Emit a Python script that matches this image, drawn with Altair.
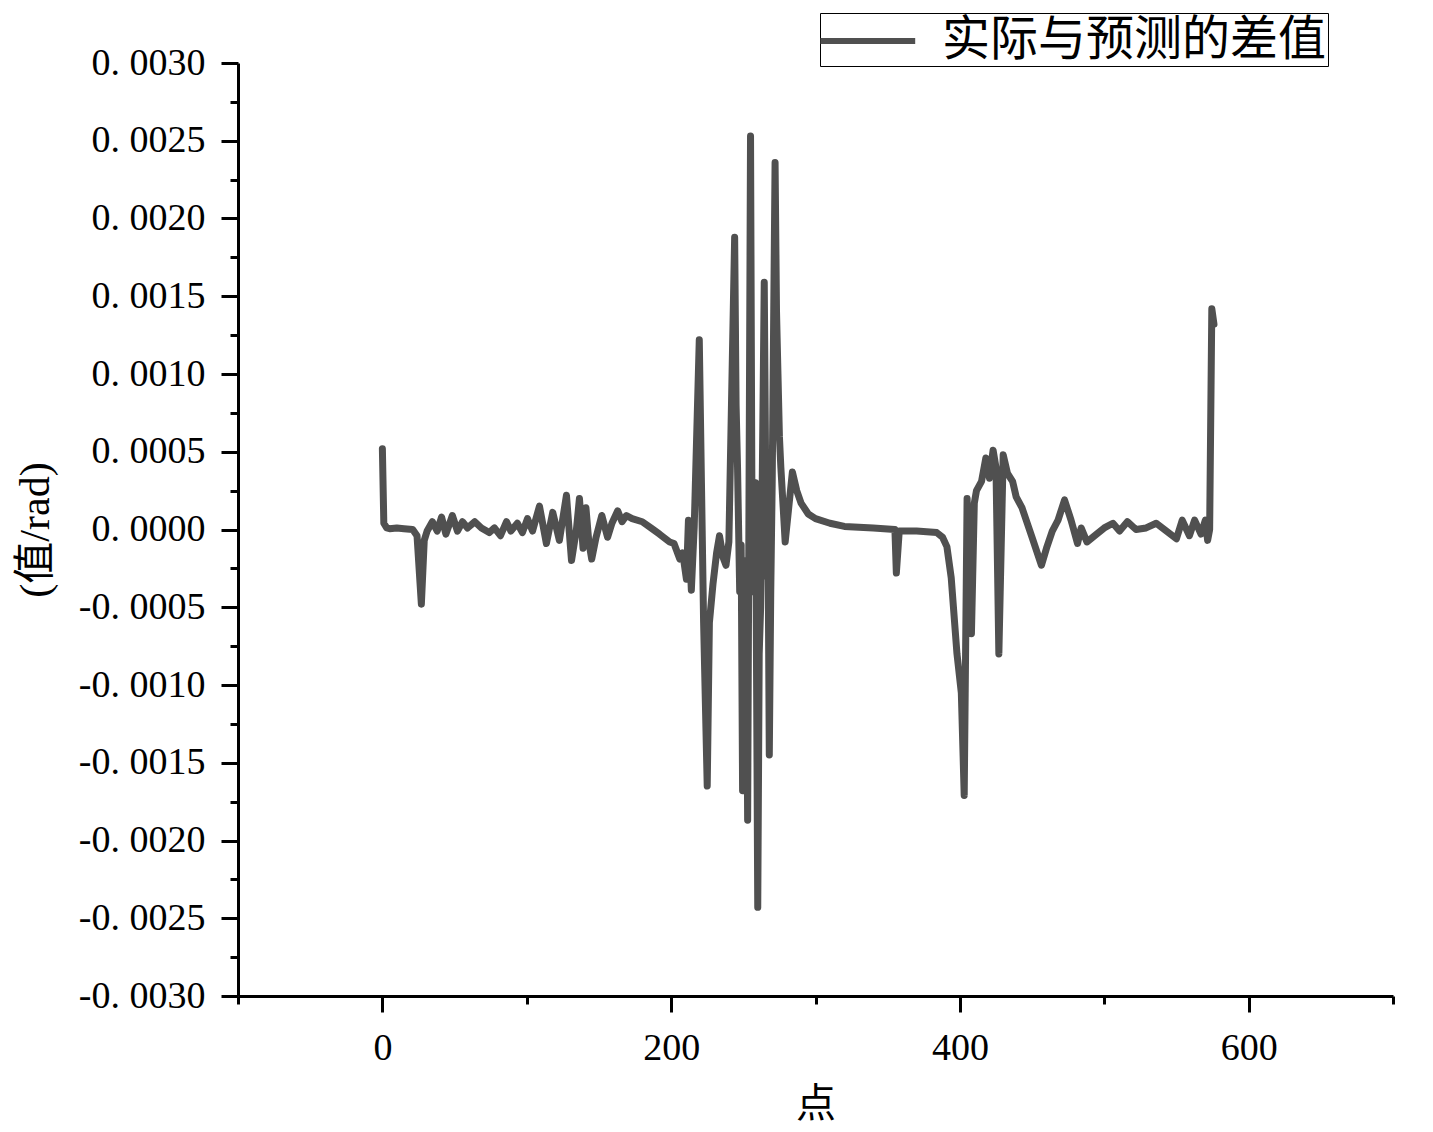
import altair as alt
import pandas as pd

series_name = "实际与预测的差值"
x_title = "点"
y_title = "(值/rad)"

# x positions (点) of the line vertices
x_vals = [0, 1, 3, 5, 10, 15, 21, 24, 27, 29, 31, 34.6, 38, 41, 44, 48.5, 52, 55.5, 59, 64,
          68.6, 74, 77.6, 81.8, 86, 89, 93.5, 97, 100.5, 104, 108.8, 113.6, 118, 122.6, 127.5,
          131, 134.4, 136.5, 139, 141, 143, 145, 148, 152, 156, 159, 163, 166, 169, 173, 180,
          186, 192, 199, 202, 206, 208, 210.6, 212, 214, 216, 219.5, 221, 222.5, 225, 226.5,
          229, 231.5, 233.5, 236, 238, 240, 244, 245, 246, 247.5, 248.5, 249.5, 251, 252,
          253, 255, 256, 257, 258.5, 260, 261, 262, 263, 264.5, 266, 267, 268, 269, 270, 272,
          273, 274, 275, 276, 279, 284, 287, 290, 295, 300, 310, 320, 340, 355, 356, 358,
          370, 384, 388, 391, 394, 398, 401, 403, 405, 407, 408, 410, 411.5, 415, 418, 420.5,
          423, 425, 427, 430, 433, 436.5, 439, 443, 450, 456.5, 460, 464, 468, 472.5, 477,
          481.5, 484, 488, 494.6, 500, 506, 510.6, 516, 522, 529, 536, 543, 550, 554, 559,
          562.6, 567, 570, 571.6, 573, 574.5, 576]

# difference values (rad)
y_vals = [5.2e-4, 0.4e-4, 0.1e-4, 0.05e-4, 0.1e-4, 0.05e-4, 0.0, -0.4e-4, -4.8e-4, -0.7e-4,
          -0.1e-4, 0.5e-4, -0.1e-4, 0.8e-4, -0.3e-4, 0.9e-4, -0.1e-4, 0.5e-4, 0.1e-4, 0.5e-4,
          0.1e-4, -0.2e-4, 0.1e-4, -0.4e-4, 0.5e-4, -0.1e-4, 0.4e-4, -0.2e-4, 0.7e-4, -0.1e-4,
          1.5e-4, -0.9e-4, 1.1e-4, -0.7e-4, 2.2e-4, -2.0e-4, 0.0, 2.0e-4, -1.2e-4, 1.4e-4,
          -0.8e-4, -1.9e-4, -0.5e-4, 0.9e-4, -0.5e-4, 0.4e-4, 1.2e-4, 0.5e-4, 0.9e-4, 0.7e-4,
          0.5e-4, 0.1e-4, -0.3e-4, -0.8e-4, -0.9e-4, -1.9e-4, -1.5e-4, -3.2e-4, 0.6e-4,
          -3.9e-4, 0.2e-4, 12.2e-4, 3.0e-4, -6.0e-4, -16.5e-4, -6.0e-4, -3.5e-4, -1.5e-4,
          -0.4e-4, -1.8e-4, -2.3e-4, -0.8e-4, 18.8e-4, 8.0e-4, 4.0e-4, -4.0e-4, -1.0e-4,
          -16.8e-4, -5.0e-4, -2.0e-4, -18.7e-4, 25.3e-4, 1.0e-4, -4.0e-4, 3.0e-4, -24.3e-4,
          -8.0e-4, -5.0e-4, 2.0e-4, 15.9e-4, -3.0e-4, 1.0e-4, -14.5e-4, -4.0e-4, 3.0e-4,
          23.6e-4, 14.0e-4, 10.0e-4, 6.0e-4, 4.0e-4, -0.8e-4, 3.7e-4, 2.5e-4, 1.7e-4, 1.0e-4,
          0.7e-4, 0.4e-4, 0.2e-4, 0.1e-4, 0.0, -2.8e-4, -0.1e-4, -0.1e-4, -0.2e-4, -0.5e-4,
          -1.1e-4, -3.1e-4, -8.0e-4, -10.5e-4, -17.1e-4, 2.0e-4, -3.0e-4, -6.7e-4, 1.7e-4,
          2.5e-4, 3.1e-4, 4.6e-4, 3.3e-4, 5.1e-4, 4.0e-4, -8.0e-4, 4.8e-4, 3.6e-4, 3.1e-4,
          2.1e-4, 1.4e-4, -0.5e-4, -2.3e-4, -1.2e-4, -0.1e-4, 0.6e-4, 1.9e-4, 0.6e-4, -0.9e-4,
          0.1e-4, -0.8e-4, -0.3e-4, 0.1e-4, 0.4e-4, -0.1e-4, 0.5e-4, 0.0, 0.1e-4, 0.4e-4,
          -0.1e-4, -0.6e-4, 0.6e-4, -0.4e-4, 0.6e-4, -0.3e-4, 0.6e-4, -0.7e-4, 0.0, 14.2e-4,
          13.2e-4]

x_major_ticks = [0, 200, 400, 600]
x_minor_ticks = [-100, 100, 300, 500, 700]
y_major_ticks = [-0.003, -0.0025, -0.002, -0.0015, -0.001, -0.0005, 0.0,
                 0.0005, 0.001, 0.0015, 0.002, 0.0025, 0.003]
y_minor_ticks = [-0.00275, -0.00225, -0.00175, -0.00125, -0.00075, -0.00025,
                 0.00025, 0.00075, 0.00125, 0.00175, 0.00225, 0.00275]

df = pd.DataFrame({"x": x_vals, "y": y_vals, "series": [series_name] * len(x_vals)})

FONT = "Liberation Serif, Noto Sans CJK SC"
LINE_COLOR = "#505050"

xscale = alt.Scale(domain=[-100, 700], nice=False, zero=False)
yscale = alt.Scale(domain=[-0.003, 0.003], nice=False, zero=False)

y_label_expr = ("abs(datum.value) < 1e-9 ? '0. 0000' : "
                "(datum.value < 0 ? '-' : '') + replace(format(abs(datum.value), '.4f'), '.', '. ')")

main = alt.Chart(df).mark_line(
    color=LINE_COLOR, strokeWidth=7, strokeJoin="round", strokeCap="round"
).encode(
    x=alt.X("x:Q", scale=xscale, axis=alt.Axis(
        orient="bottom", values=x_major_ticks, tickSize=16, tickWidth=3, tickColor="black",
        domainWidth=3, domainColor="black", grid=False, labelFlush=False, labelOverlap=False,
        labelFont=FONT, labelFontSize=38, labelColor="black", labelPadding=17,
        format="d", title=x_title, titleFont=FONT, titleFontSize=40,
        titleFontWeight="normal", titleColor="black", titleBaseline="middle", titleY=108)),
    y=alt.Y("y:Q", scale=yscale, axis=alt.Axis(
        orient="left", values=y_major_ticks, tickSize=17, tickWidth=3, tickColor="black",
        domainWidth=3, domainColor="black", grid=False, labelFlush=False, labelOverlap=False,
        labelFont=FONT, labelFontSize=38, labelColor="black", labelPadding=16,
        labelExpr=y_label_expr, title=y_title, titleFont=FONT, titleFontSize=42,
        titleFontWeight="normal", titleColor="black", titleAngle=270,
        titleBaseline="middle", titleAlign="center", titleX=-203, titleY=466.5)),
    color=alt.Color("series:N", scale=alt.Scale(range=[LINE_COLOR]), legend=alt.Legend(
        orient="none", legendX=582, legendY=-50, title=None,
        symbolType="M-1.15,0H2.8", symbolSize=2304, symbolStrokeWidth=6,
        symbolStrokeColor=LINE_COLOR, symbolFillColor="transparent",
        labelFont=FONT, labelFontSize=48, labelColor="black", labelLimit=1000,
        labelOffset=67, padding=1, strokeColor="black", fillColor="white")),
)

minor = alt.Chart(df).mark_line(opacity=0).encode(
    x=alt.X("x:Q", scale=xscale, axis=alt.Axis(
        orient="bottom", values=x_minor_ticks, tickSize=8, tickWidth=3, tickColor="black",
        domain=False, grid=False, labels=False, title="")),
    y=alt.Y("y:Q", scale=yscale, axis=alt.Axis(
        orient="left", values=y_minor_ticks, tickSize=8, tickWidth=3, tickColor="black",
        domain=False, grid=False, labels=False, title="")),
)

chart = alt.layer(main, minor).resolve_axis(
    x="independent", y="independent"
).properties(
    width=1155, height=933,
    autosize=alt.AutoSizeParams(type="none"),
    padding={"left": 230, "top": 55, "right": 32, "bottom": 134},
    background="white",
).configure_view(stroke=None)

chart.save("out.html", embed_options={"renderer": "svg", "actions": False})
